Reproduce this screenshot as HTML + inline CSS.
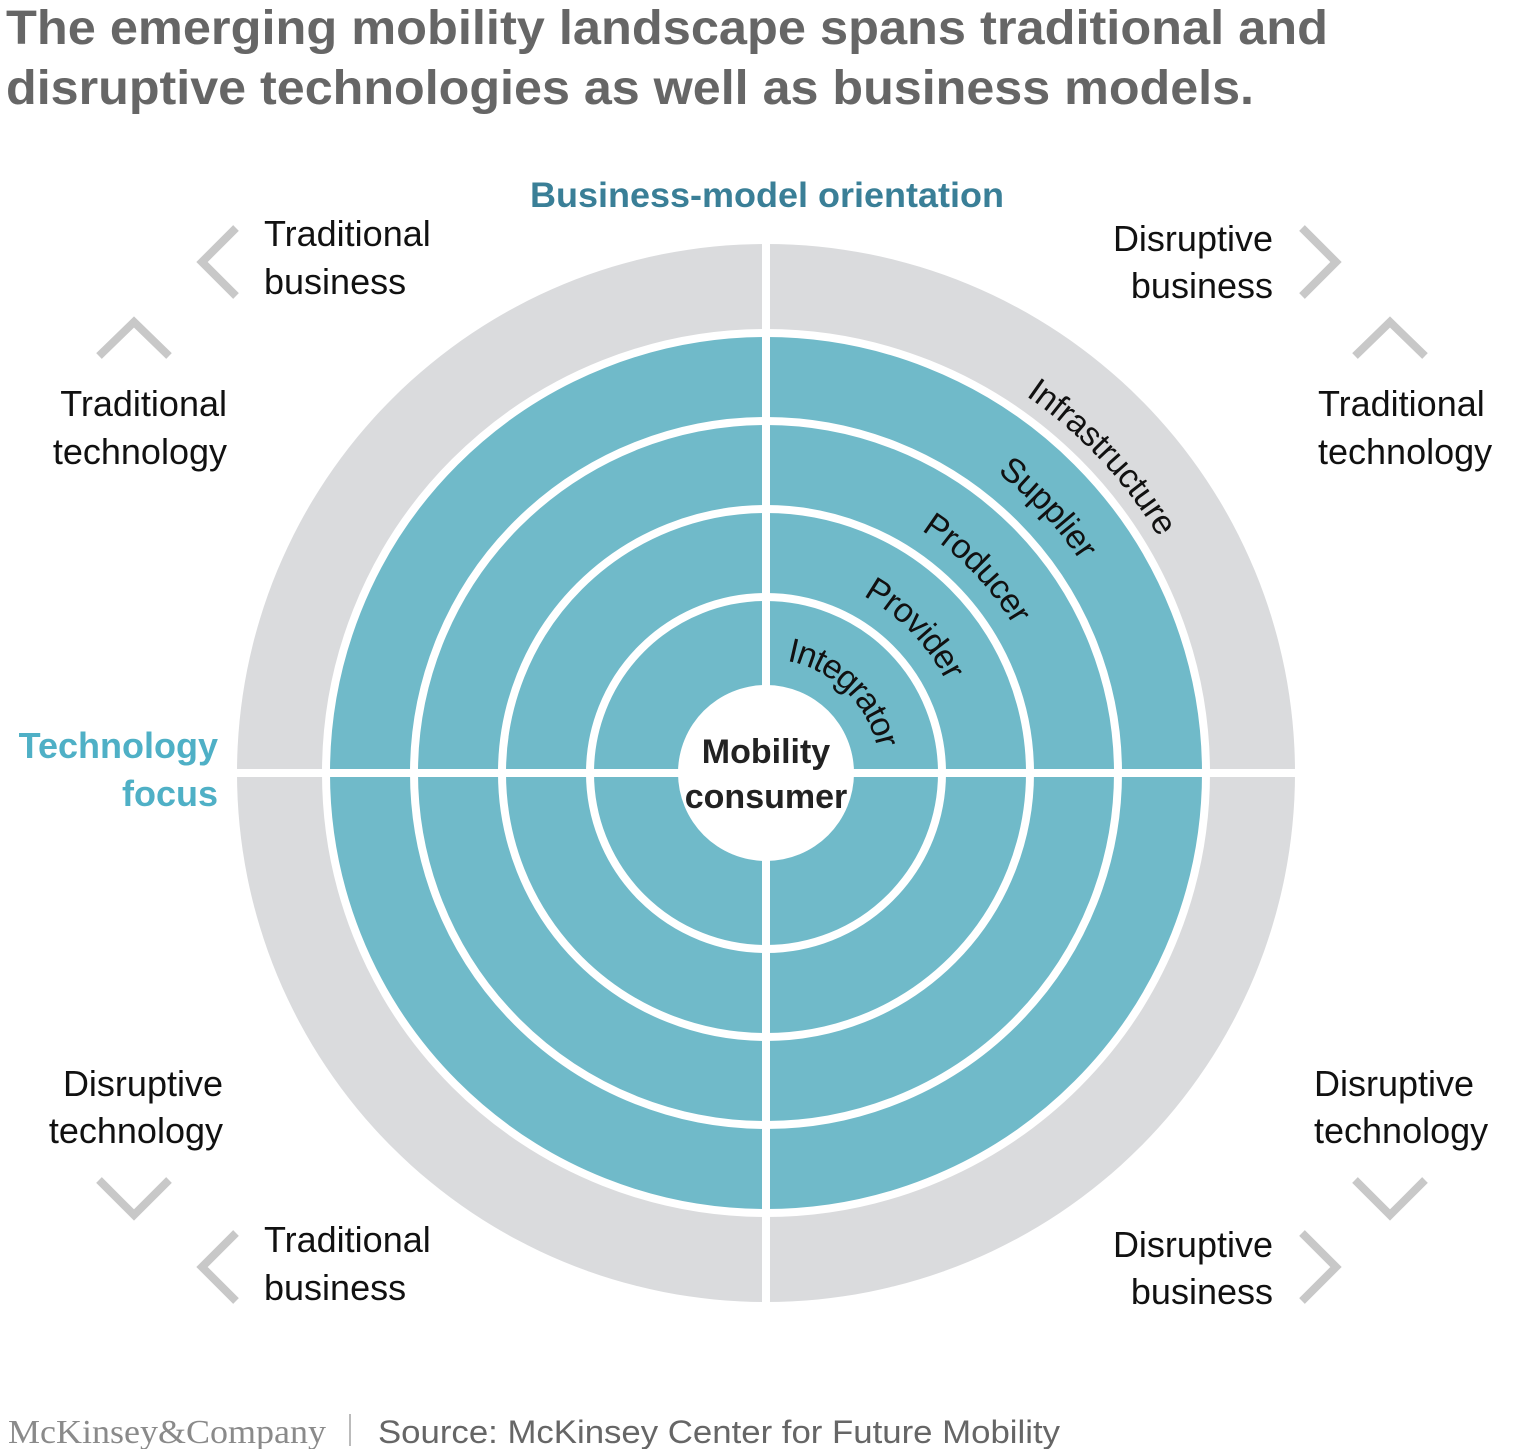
<!DOCTYPE html>
<html><head><meta charset="utf-8"><style>
html,body{margin:0;padding:0;background:#fff;}
svg{display:block;}
</style></head><body>
<svg width="1536" height="1449" viewBox="0 0 1536 1449" xmlns="http://www.w3.org/2000/svg" font-family="Liberation Sans, sans-serif">
<text x="6" y="44" font-size="48" font-weight="bold" fill="#666" textLength="1322" lengthAdjust="spacingAndGlyphs">The emerging mobility landscape spans traditional and</text>
<text x="6" y="104" font-size="48" font-weight="bold" fill="#666" textLength="1248" lengthAdjust="spacingAndGlyphs">disruptive technologies as well as business models.</text>
<text x="767" y="207" font-size="35" font-weight="bold" fill="#3a7f97" text-anchor="middle" textLength="474" lengthAdjust="spacingAndGlyphs">Business-model orientation</text>
<text x="218" y="758" font-size="36" font-weight="bold" fill="#4fb0c6" text-anchor="end">Technology</text>
<text x="218" y="806" font-size="36" font-weight="bold" fill="#4fb0c6" text-anchor="end">focus</text>

<circle cx="766" cy="773" r="529" fill="#dadbdd"/>
<circle cx="766" cy="773" r="440" fill="#70bac9" stroke="#fff" stroke-width="8"/>
<circle cx="766" cy="773" r="352" fill="none" stroke="#fff" stroke-width="8"/>
<circle cx="766" cy="773" r="264" fill="none" stroke="#fff" stroke-width="8"/>
<circle cx="766" cy="773" r="176" fill="none" stroke="#fff" stroke-width="8"/>
<rect x="762" y="240" width="8" height="1066" fill="#fff"/>
<rect x="234" y="769" width="1064" height="8" fill="#fff"/>
<circle cx="766" cy="773" r="88" fill="#fff"/>
<text x="766" y="763" font-size="34" font-weight="bold" fill="#222" text-anchor="middle">Mobility</text>
<text x="766" y="808" font-size="34" font-weight="bold" fill="#222" text-anchor="middle">consumer</text>

<defs>
<path id="a1" d="M766 648 A125 125 0 0 1 891 773"/>
<path id="a2" d="M766 560 A213 213 0 0 1 979 773"/>
<path id="a3" d="M766 474 A299 299 0 0 1 1065 773"/>
<path id="a4" d="M766 383 A390 390 0 0 1 1156 773"/>
<path id="a5" d="M766 304 A469 469 0 0 1 1235 773"/>
</defs>
<g font-size="34" fill="#111" dominant-baseline="central">
<text><textPath href="#a1" startOffset="49%" text-anchor="middle">Integrator</textPath></text>
<text><textPath href="#a2" startOffset="51%" text-anchor="middle">Provider</textPath></text>
<text><textPath href="#a3" startOffset="51%" text-anchor="middle">Producer</textPath></text>
<text><textPath href="#a4" startOffset="52%" text-anchor="middle">Supplier</textPath></text>
<text><textPath href="#a5" startOffset="52%" text-anchor="middle">Infrastructure</textPath></text>
</g>

<g fill="none" stroke="#c8c8c8" stroke-width="8">
<polyline points="236,228 202,262 236,296"/>
<polyline points="99,356 134,322 169,356"/>
<polyline points="1302,228 1336,262 1302,296"/>
<polyline points="1355,356 1390,322 1425,356"/>
<polyline points="99,1180 134,1215 169,1180"/>
<polyline points="236,1233 202,1267 236,1301"/>
<polyline points="1355,1180 1390,1215 1425,1180"/>
<polyline points="1302,1233 1336,1267 1302,1301"/>
</g>

<g font-size="36" fill="#111">
<text x="264" y="246">Traditional</text>
<text x="264" y="294">business</text>
<text x="227" y="416" text-anchor="end">Traditional</text>
<text x="227" y="464" text-anchor="end">technology</text>
<text x="1273" y="251" text-anchor="end">Disruptive</text>
<text x="1273" y="298" text-anchor="end">business</text>
<text x="1318" y="416">Traditional</text>
<text x="1318" y="464">technology</text>
<text x="223" y="1096" text-anchor="end">Disruptive</text>
<text x="223" y="1143" text-anchor="end">technology</text>
<text x="264" y="1252">Traditional</text>
<text x="264" y="1300">business</text>
<text x="1314" y="1096">Disruptive</text>
<text x="1314" y="1143">technology</text>
<text x="1273" y="1257" text-anchor="end">Disruptive</text>
<text x="1273" y="1304" text-anchor="end">business</text>
</g>

<text x="8" y="1443" font-family="Liberation Serif, serif" font-size="34" fill="#8a8a8a" textLength="318" lengthAdjust="spacingAndGlyphs">McKinsey&amp;Company</text>
<rect x="349" y="1414" width="2" height="32" fill="#bbb"/>
<text x="378" y="1443" font-size="32" fill="#666" textLength="682" lengthAdjust="spacingAndGlyphs">Source: McKinsey Center for Future Mobility</text>
</svg>
</body></html>
